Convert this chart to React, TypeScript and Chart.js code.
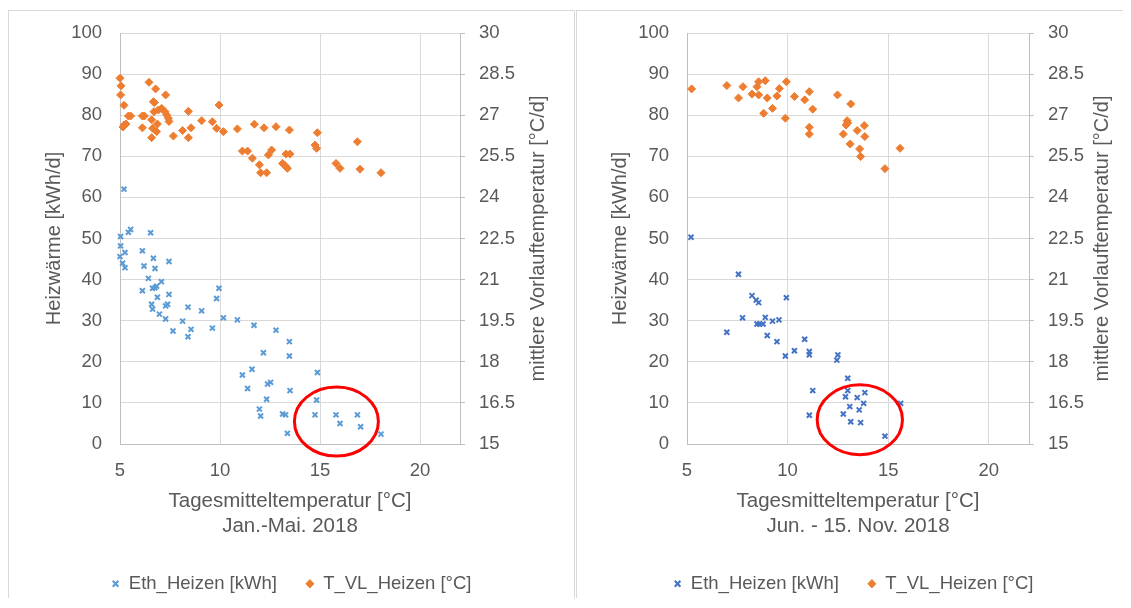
import React, { useEffect, useRef } from "react";
import { Chart, registerables } from "chart.js";

Chart.register(...registerables);

// ---------------- data ----------------
// Left panel: Jan.-Mai. 2018
const janMaiTempE = [5.2, 5.03, 5.42, 5.53, 6.53, 5.03, 5.25, 6.12, 5.0, 6.67, 5.13, 5.25, 6.2, 6.75, 7.45, 6.42, 7.07, 6.12, 6.63, 6.75, 6.83, 6.87, 7.45, 6.58, 6.63, 7.28, 7.38, 6.97, 7.28, 7.65, 8.13, 8.4, 8.4, 8.55, 9.08, 9.62, 9.83, 9.95, 10.17, 10.87, 11.7, 12.8, 13.47, 13.47, 12.17, 11.12, 11.6, 11.38, 12.38, 12.53, 12.33, 13.5, 11.97, 12.03, 13.13, 13.28, 13.37, 14.87, 14.83, 14.75, 15.8, 16.0, 16.87, 17.03, 18.05];
const janMaiEth = [62.0, 50.5, 51.5, 52.2, 51.4, 48.2, 46.6, 47.0, 45.6, 45.2, 44.0, 42.9, 43.3, 42.7, 44.4, 40.3, 39.5, 37.3, 37.9, 38.0, 38.4, 35.7, 36.4, 34.0, 32.8, 33.6, 34.0, 31.6, 30.4, 27.5, 29.9, 33.3, 26.1, 27.9, 32.4, 28.2, 35.4, 37.9, 30.7, 30.2, 28.9, 27.7, 24.9, 21.4, 22.2, 16.8, 18.2, 13.5, 14.6, 15.0, 10.9, 13.0, 8.5, 6.8, 7.3, 7.1, 2.6, 17.4, 10.7, 7.1, 7.1, 5.0, 7.1, 4.2, 2.4];
const janMaiTempT = [5.0, 5.05, 5.03, 5.2, 5.42, 5.53, 5.2, 5.3, 5.15, 6.45, 6.78, 7.28, 6.12, 6.22, 6.12, 6.67, 6.72, 6.7, 6.92, 7.08, 7.25, 7.33, 7.42, 7.45, 6.58, 6.87, 6.63, 6.83, 6.58, 7.67, 8.13, 8.42, 8.42, 8.55, 9.08, 9.62, 9.83, 9.95, 10.17, 10.87, 11.12, 11.38, 11.62, 11.72, 11.97, 12.03, 12.33, 12.2, 12.42, 12.58, 12.8, 13.13, 13.25, 13.37, 13.3, 13.5, 13.47, 14.87, 14.75, 14.83, 15.8, 16.0, 16.87, 17.0, 18.05];
const janMaiTvl = [28.35, 28.07, 27.74, 27.36, 26.97, 26.97, 26.64, 26.68, 26.57, 28.2, 27.96, 27.74, 26.97, 26.97, 26.54, 27.49, 27.46, 27.13, 27.19, 27.25, 27.13, 27.01, 26.89, 26.77, 26.83, 26.68, 26.52, 26.4, 26.18, 26.24, 26.44, 27.14, 26.18, 26.54, 26.8, 26.76, 26.52, 27.37, 26.4, 26.5, 25.69, 25.69, 25.43, 26.67, 25.19, 24.9, 24.9, 26.54, 25.55, 25.73, 26.58, 25.24, 25.16, 25.06, 25.58, 25.58, 26.46, 26.36, 25.91, 25.79, 25.24, 25.06, 26.03, 25.03, 24.9];

// Right panel: Jun. - 15. Nov. 2018
const junNovTempE = [5.2, 7.56, 6.98, 7.76, 8.23, 8.44, 8.56, 8.48, 8.61, 8.78, 8.89, 8.99, 9.25, 9.57, 9.47, 9.94, 9.89, 10.34, 10.85, 11.08, 11.08, 11.25, 11.08, 12.5, 12.45, 12.99, 12.99, 12.88, 13.46, 13.84, 13.09, 13.78, 12.77, 13.56, 13.14, 13.63, 14.84, 15.62];
const junNovEth = [50.3, 41.3, 27.2, 30.7, 36.1, 35.0, 34.4, 29.2, 29.2, 29.2, 30.8, 26.4, 29.9, 30.2, 24.9, 35.6, 21.4, 22.7, 25.5, 22.5, 21.7, 13.0, 7.0, 21.7, 20.4, 16.0, 13.0, 11.5, 11.3, 12.5, 9.1, 9.9, 7.3, 8.3, 5.4, 5.2, 1.9, 9.9];
const junNovTempT = [5.23, 6.98, 7.78, 7.56, 8.23, 8.48, 8.56, 8.56, 8.89, 8.81, 8.99, 9.25, 9.47, 9.59, 9.94, 9.89, 10.34, 10.85, 11.08, 11.25, 11.08, 11.08, 12.48, 13.14, 12.96, 12.91, 12.99, 12.77, 13.46, 13.81, 13.84, 13.11, 13.58, 13.63, 14.84, 15.59];
const junNovTvl = [27.96, 28.08, 28.04, 27.63, 27.77, 28.04, 28.22, 27.74, 28.26, 27.07, 27.63, 27.25, 27.7, 27.97, 28.22, 26.89, 27.68, 27.56, 27.86, 27.22, 26.56, 26.31, 27.74, 27.41, 26.8, 26.64, 26.72, 26.31, 26.44, 26.62, 26.22, 25.95, 25.77, 25.49, 25.05, 25.79];

// ticks
const xTicks = [5, 10, 15, 20];
const yTicksLeft = [0, 10, 20, 30, 40, 50, 60, 70, 80, 90, 100];
const yTicksRight = [15, 16.5, 18, 19.5, 21, 22.5, 24, 25.5, 27, 28.5, 30];

// labels
const seriesNames = ["Eth_Heizen [kWh]", "T_VL_Heizen [°C]"];
const xTitle = "Tagesmitteltemperatur [°C]";
const periodLeft = "Jan.-Mai. 2018";
const periodRight = "Jun. - 15. Nov. 2018";
const yTitleLeft = "Heizwärme [kWh/d]";
const yTitleRight = "mittlere Vorlauftemperatur [°C/d]";

// highlighted regions (data coordinates)
const ellipseLeft = { cx: 15.82, cy: 5.45, rx: 2.1, ry: 8.4 };
const ellipseRight = { cx: 13.59, cy: 5.9, rx: 2.12, ry: 8.5 };

// ---------------- styles ----------------
const FONT = "'Liberation Sans', Arial, sans-serif";
const TEXT = "#595959";
const GRID = "#D9D9D9";
const AXIS = "#BFBFBF";
const ORANGE = "#ED7D31";
const FS_TICK = 18.5;
const FS_TITLE = 20;

const pairs = (xs: number[], ys: number[]) => xs.map((x, i) => ({ x, y: ys[i] }));

const rightTitlePlugin = {
  id: "rightTitle",
  afterDraw(chart: any, _args: any, opts: any) {
    const { ctx, chartArea } = chart;
    const y1 = chart.scales.y1;
    ctx.save();
    ctx.translate(y1.right - opts.offset, (chartArea.top + chartArea.bottom) / 2);
    ctx.rotate(-Math.PI / 2);
    ctx.font = `${FS_TITLE}px ${FONT}`;
    ctx.fillStyle = TEXT;
    ctx.textAlign = "center";
    ctx.textBaseline = "middle";
    ctx.fillText(opts.text, 0, 0);
    ctx.restore();
  },
};

const ellipsePlugin = {
  id: "highlight",
  afterDraw(chart: any, _args: any, opts: any) {
    const { ctx } = chart;
    const xs = chart.scales.x;
    const ys = chart.scales.y;
    const e = opts.ellipse;
    const cx = xs.getPixelForValue(e.cx);
    const cy = ys.getPixelForValue(e.cy);
    const rx = Math.abs(xs.getPixelForValue(e.cx + e.rx) - cx);
    const ry = Math.abs(ys.getPixelForValue(e.cy + e.ry) - cy);
    ctx.save();
    ctx.beginPath();
    ctx.ellipse(cx, cy, rx, ry, 0, 0, Math.PI * 2);
    ctx.strokeStyle = "#FF0000";
    ctx.lineWidth = 3;
    ctx.stroke();
    ctx.restore();
  },
};

type PanelProps = {
  width: number;
  height: number;
  blue: string;
  tempE: number[];
  eth: number[];
  tempT: number[];
  tvl: number[];
  period: string;
  ellipse: { cx: number; cy: number; rx: number; ry: number };
  yWidth: number;
  y1Width: number;
  yTitlePad: number;
  rightTitleOffset: number;
};

function Panel(p: PanelProps) {
  const ref = useRef<HTMLCanvasElement | null>(null);
  useEffect(() => {
    if (!ref.current) return;
    const tickFont = { family: FONT, size: FS_TICK };
    const chart = new Chart(ref.current, {
      type: "scatter",
      data: {
        datasets: [
          {
            label: seriesNames[0],
            data: pairs(p.tempE, p.eth),
            yAxisID: "y",
            pointStyle: "crossRot",
            pointRadius: 3.5,
            borderWidth: 2,
            borderColor: p.blue,
            backgroundColor: p.blue,
            clip: false,
          },
          {
            label: seriesNames[1],
            data: pairs(p.tempT, p.tvl),
            yAxisID: "y1",
            pointStyle: "rectRot",
            pointRadius: 4,
            borderWidth: 1,
            borderColor: ORANGE,
            backgroundColor: ORANGE,
            clip: false,
          },
        ],
      },
      options: {
        responsive: false,
        animation: false,
        events: [],
        layout: { padding: { top: 23, left: 0, right: 0, bottom: 0 } },
        plugins: {
          tooltip: { enabled: false },
          legend: {
            position: "bottom",
            labels: {
              usePointStyle: true,
              pointStyleWidth: 8,
              boxHeight: 6,
              padding: 29,
              color: TEXT,
              font: tickFont,
            },
          },
          rightTitle: { text: yTitleRight, offset: p.rightTitleOffset },
          highlight: { ellipse: p.ellipse },
        } as any,
        scales: {
          x: {
            type: "linear",
            min: 5,
            max: 22,
            afterBuildTicks: (s: any) => {
              s.ticks = xTicks.map((v) => ({ value: v }));
            },
            afterFit: (s: any) => {
              s.height = 101.5;
            },
            ticks: { color: TEXT, font: tickFont, padding: 16, maxRotation: 0 },
            grid: { color: GRID, drawTicks: false },
            border: { color: AXIS },
            title: {
              display: true,
              text: [xTitle, p.period],
              color: TEXT,
              font: { family: FONT, size: 20.5, lineHeight: 1.185 },
              padding: { top: 0, bottom: 7.3 },
            },
          },
          y: {
            type: "linear",
            position: "left",
            min: 0,
            max: 100,
            afterBuildTicks: (s: any) => {
              s.ticks = yTicksLeft.map((v) => ({ value: v }));
            },
            afterFit: (s: any) => {
              s.width = p.yWidth;
              s.paddingTop = 0;
              s.paddingBottom = 0;
            },
            ticks: { color: TEXT, font: tickFont, padding: 18 },
            grid: { color: GRID, drawTicks: false },
            border: { color: AXIS },
            title: {
              display: true,
              text: yTitleLeft,
              color: TEXT,
              font: { family: FONT, size: FS_TITLE },
              padding: { top: p.yTitlePad, bottom: 0 },
            },
          },
          y1: {
            type: "linear",
            position: "right",
            min: 15,
            max: 30,
            afterBuildTicks: (s: any) => {
              s.ticks = yTicksRight.map((v) => ({ value: v }));
            },
            afterFit: (s: any) => {
              s.width = p.y1Width;
              s.paddingTop = 0;
              s.paddingBottom = 0;
            },
            ticks: { color: TEXT, font: tickFont, padding: 14, callback: (v: any) => String(v) },
            grid: { drawOnChartArea: false, drawTicks: true, tickLength: 5, color: AXIS },
            border: { color: AXIS },
          },
        },
      } as any,
      plugins: [rightTitlePlugin, ellipsePlugin],
    });
    return () => chart.destroy();
  }, []);
  return (
    <canvas
      ref={ref}
      width={p.width}
      height={p.height}
      style={{ width: p.width, height: p.height, display: "block" }}
    />
  );
}

export default function App() {
  useEffect(() => {
    document.body.style.overflow = "hidden";
  }, []);
  const boxBorder = `1px solid ${GRID}`;
  return (
    <div style={{ position: "relative", width: 1115, height: 590 }}>
      <div
        style={{
          position: "absolute",
          left: 0,
          top: 2,
          width: 567,
          height: 596,
          boxSizing: "border-box",
          borderTop: boxBorder,
          borderLeft: boxBorder,
          borderRight: boxBorder,
        }}
      />
      <div
        style={{
          position: "absolute",
          left: 568,
          top: 2,
          width: 555,
          height: 596,
          boxSizing: "border-box",
          borderTop: boxBorder,
          borderLeft: boxBorder,
        }}
      />
      <div style={{ position: "absolute", left: 0, top: 2 }}>
        <Panel
          width={567}
          height={593}
          blue="#5B9BD5"
          tempE={janMaiTempE}
          eth={janMaiEth}
          tempT={janMaiTempT}
          tvl={janMaiTvl}
          period={periodLeft}
          ellipse={ellipseLeft}
          yWidth={112}
          y1Width={115}
          yTitlePad={34}
          rightTitleOffset={37}
        />
      </div>
      <div style={{ position: "absolute", left: 568, top: 2 }}>
        <Panel
          width={555}
          height={593}
          blue="#4472C4"
          tempE={junNovTempE}
          eth={junNovEth}
          tempT={junNovTempT}
          tvl={junNovTvl}
          period={periodRight}
          ellipse={ellipseRight}
          yWidth={111}
          y1Width={102}
          yTitlePad={32}
          rightTitleOffset={29}
        />
      </div>
    </div>
  );
}
